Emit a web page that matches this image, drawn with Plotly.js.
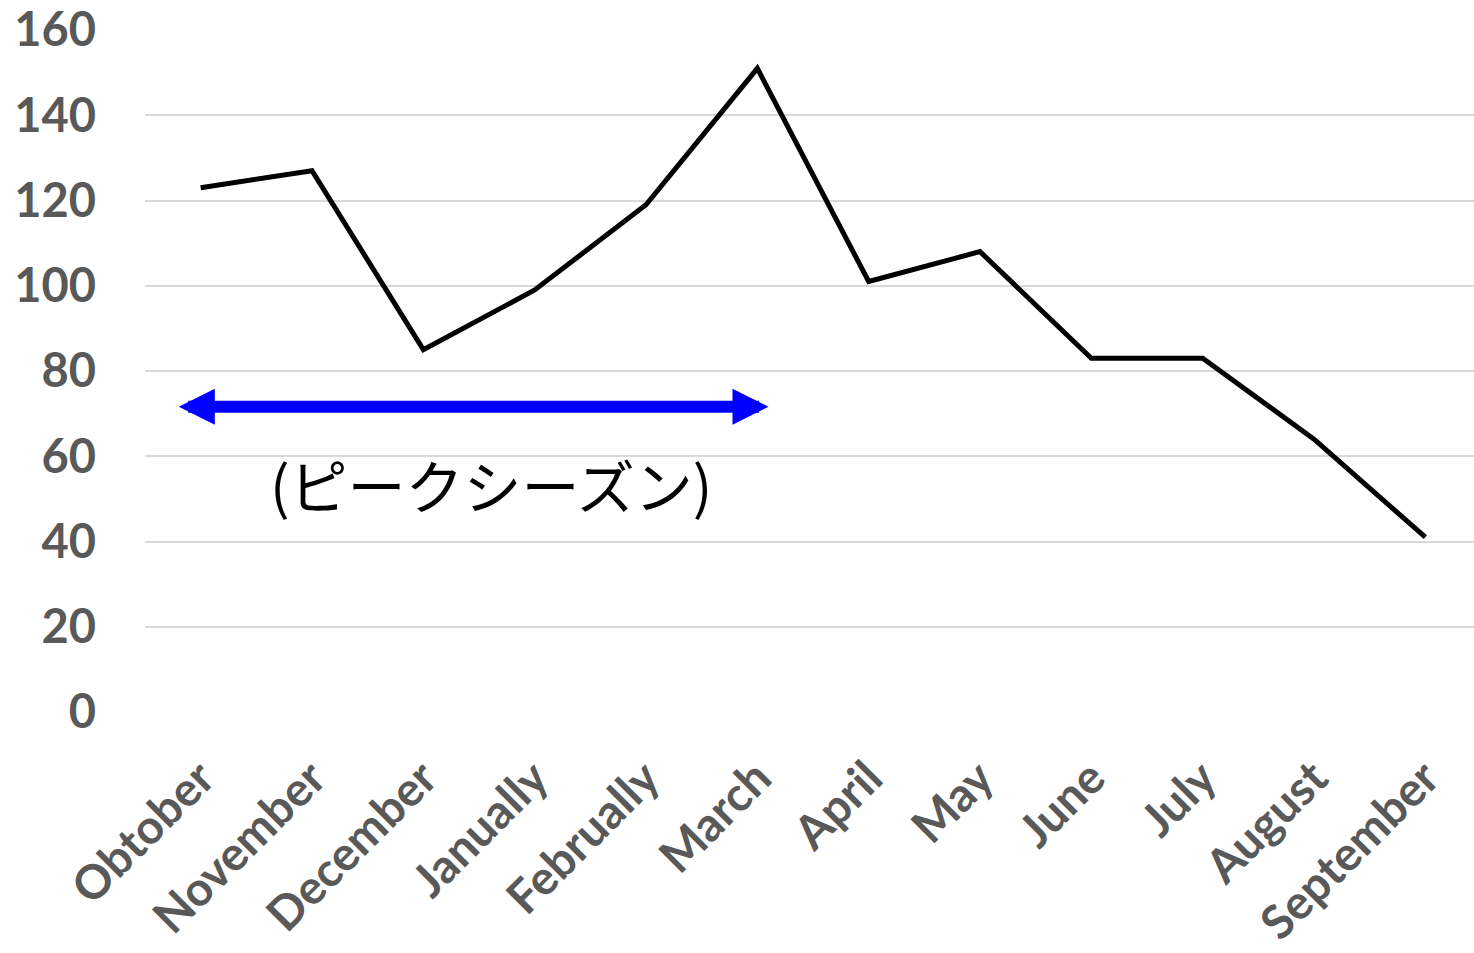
<!DOCTYPE html>
<html>
<head>
<meta charset="utf-8">
<script src="https://cdn.plot.ly/plotly-3.0.1.min.js"></script>
<style>
html,body{margin:0;padding:0;overflow:hidden;background:#fff;}
#chart{width:1474px;height:953px;}
</style>
</head>
<body>
<div id="chart"></div>
<script>
const months = ["Obtober","November","December","Janually","Februally","March","April","May","June","July","August","September"];
const values = [123, 127, 85, 99, 119, 151, 101, 108, 83, 83, 64, 41];
const yTicks = [0, 20, 40, 60, 80, 100, 120, 140, 160];
const peakLabel = "(ピークシーズン)";
const peakStart = -0.21;
const peakEnd = 5.1;
const peakLevel = 71.6;

const trace = {
  x: months,
  y: values,
  type: 'scatter',
  mode: 'lines',
  line: {color: '#000000', width: 5},
  hoverinfo: 'skip'
};

const layout = {
  width: 1474,
  height: 953,
  margin: {l: 145, r: 0, t: 30, b: 241},
  paper_bgcolor: '#ffffff',
  plot_bgcolor: '#ffffff',
  showlegend: false,
  xaxis: {
    type: 'category',
    range: [-0.5, 11.437],
    showgrid: false,
    zeroline: false,
    showline: false,
    ticks: '',
    tickangle: -45,
    tickfont: {family: 'Lato, "Open Sans", sans-serif', size: 47, color: '#595959', weight: 'bold'},
    ticklabelstandoff: 28
  },
  yaxis: {
    range: [0, 160],
    tickvals: yTicks,
    ticktext: yTicks.map(String),
    showgrid: true,
    gridcolor: '#d9d9d9',
    gridwidth: 2,
    zeroline: false,
    showline: false,
    ticks: '',
    tickfont: {family: 'Lato, "Open Sans", sans-serif', size: 47, color: '#595959', weight: 'bold'},
    ticklabelstandoff: 48
  },
  annotations: [
    {
      x: peakEnd, y: peakLevel, xref: 'x', yref: 'y',
      ax: peakStart, ay: peakLevel, axref: 'x', ayref: 'y',
      showarrow: true,
      arrowside: 'end+start',
      arrowhead: 2,
      startarrowhead: 2,
      arrowwidth: 12,
      arrowsize: 0.6,
      startarrowsize: 0.6,
      arrowcolor: '#0000ff',
      text: ''
    },
    {
      x: 2.61, y: 53.4, xref: 'x', yref: 'y',
      text: peakLabel,
      showarrow: false,
      font: {family: '"Noto Sans CJK JP", sans-serif', size: 58, color: '#000000'}
    }
  ]
};

Plotly.newPlot('chart', [trace], layout, {displayModeBar: false, staticPlot: true});
</script>
</body>
</html>
